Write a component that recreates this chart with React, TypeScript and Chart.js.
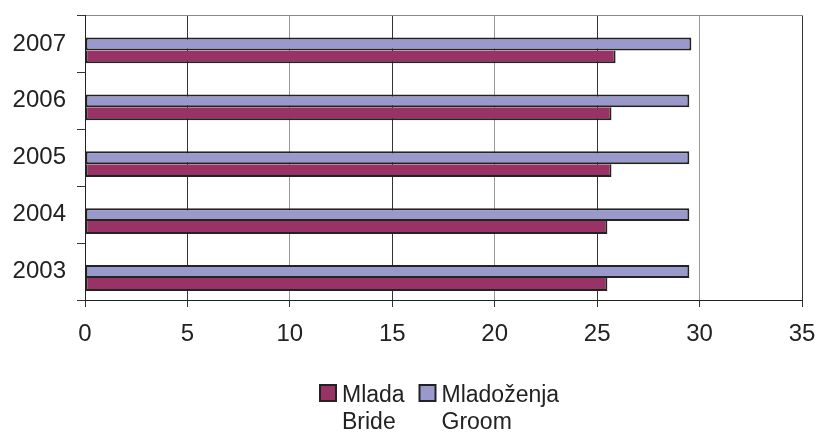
import React, { useEffect, useRef } from "react";
import { Chart, registerables } from "chart.js";

Chart.register(...registerables);

const years = ["2003", "2004", "2005", "2006", "2007"];
const brideAge = [25.5, 25.5, 25.7, 25.7, 25.9];
const groomAge = [29.5, 29.5, 29.5, 29.5, 29.6];
const brideLabel = ["Mlada", "Bride"];
const groomLabel = ["Mladoženja", "Groom"];
const xTicks = { min: 0, max: 35, step: 5 };

const FONT = '"Liberation Sans", Arial, Helvetica, sans-serif';
const BRIDE_COLOR = "#993366";
const GROOM_COLOR = "#9999cc";
const EDGE = "#222222";

const legendPlugin = {
  id: "twoLineLegend",
  afterDraw(chart: any) {
    const ctx = chart.ctx as CanvasRenderingContext2D;
    const items = [
      { color: BRIDE_COLOR, lines: brideLabel, x: 320 },
      { color: GROOM_COLOR, lines: groomLabel, x: 419.5 },
    ];
    ctx.save();
    ctx.font = `23px ${FONT}`;
    ctx.textBaseline = "alphabetic";
    ctx.textAlign = "left";
    for (const it of items) {
      ctx.fillStyle = it.color;
      ctx.fillRect(it.x, 385, 16, 16);
      ctx.strokeStyle = EDGE;
      ctx.lineWidth = 2;
      ctx.strokeRect(it.x, 385, 16, 16);
      ctx.fillStyle = EDGE;
      it.lines.forEach((line, i) => {
        ctx.fillText(line, it.x + 22, 401.5 + i * 27.7);
      });
    }
    ctx.restore();
  },
};

export default function App() {
  const ref = useRef<HTMLCanvasElement>(null);

  useEffect(() => {
    if (!ref.current) return;
    const order = years.map((_, i) => years.length - 1 - i);
    const chart = new Chart(ref.current, {
      type: "bar",
      data: {
        labels: order.map((i) => years[i]),
        datasets: [
          {
            label: "spacer",
            data: order.map(() => null),
            backgroundColor: "rgba(0,0,0,0)",
          },
          {
            label: groomLabel.join(" "),
            data: order.map((i) => groomAge[i]),
            backgroundColor: GROOM_COLOR,
            borderColor: EDGE,
            borderWidth: 2,
            borderSkipped: false,
          },
          {
            label: brideLabel.join(" "),
            data: order.map((i) => brideAge[i]),
            backgroundColor: BRIDE_COLOR,
            borderColor: EDGE,
            borderWidth: 2,
            borderSkipped: "top",
          },
        ],
      },
      options: {
        indexAxis: "y",
        responsive: false,
        maintainAspectRatio: false,
        animation: false,
        datasets: {
          bar: { categoryPercentage: 0.68, barPercentage: 1 },
        },
        layout: { padding: { top: 15.5, left: 0, right: 17, bottom: 0 } },
        plugins: {
          legend: { display: false },
          tooltip: { enabled: false },
        },
        scales: {
          x: {
            type: "linear",
            min: xTicks.min,
            max: xTicks.max,
            afterFit: (s: any) => {
              s.height = 133;
              s.paddingLeft = 0;
              s.paddingRight = 0;
            },
            ticks: {
              stepSize: xTicks.step,
              color: EDGE,
              font: { family: FONT, size: 24 },
              padding: 13,
            },
            grid: {
              color: (c: any) => (c.index % 2 === 1 ? "#333333" : "#999999"),
              tickColor: "#333333",
              tickLength: 7,
              lineWidth: 1,
            },
            border: { color: EDGE, width: 1 },
          },
          y: {
            type: "category",
            afterFit: (s: any) => {
              s.width = 85;
              s.paddingTop = 0;
              s.paddingBottom = 0;
            },
            ticks: {
              color: EDGE,
              font: { family: FONT, size: 24 },
              padding: 11,
            },
            grid: {
              offset: true,
              color: (c: any) => (c.index === 0 ? "#888888" : "rgba(0,0,0,0)"),
              tickColor: "#333333",
              tickLength: 8,
            },
            border: { color: EDGE, width: 1 },
          },
        },
      },
      plugins: [legendPlugin],
    });
    return () => chart.destroy();
  }, []);

  return (
    <div style={{ position: "absolute", left: 0, top: 0, width: 819, height: 433, background: "#fff" }}>
      <canvas ref={ref} width={819} height={433} />
    </div>
  );
}
